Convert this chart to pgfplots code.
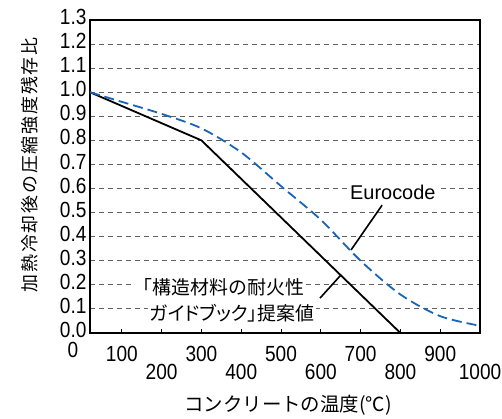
\documentclass[border=0pt]{standalone}
\usepackage{pgfplots}
\pgfplotsset{compat=1.18}
\usepackage{fontspec}
\setmainfont{Liberation Sans}
\newfontfamily\tickfont[FakeStretch=0.87]{Liberation Sans}
\newfontfamily\jp{Noto Sans CJK JP}
\newfontfamily\jppalt[RawFeature=+palt]{Noto Sans CJK JP}
\newfontfamily\jpls[LetterSpace=10]{Noto Sans CJK JP}
\definecolor{euroblue}{RGB}{25,100,180}
\begin{document}
\begin{tikzpicture}
\begin{axis}[
  name=ax,
  scale only axis,
  width=390bp, height=313bp,
  xmin=20, xmax=1000, ymin=0, ymax=1.3,
  xtick={100,300,500,700,900},
  extra x ticks={200,400,600,800,1000},
  extra x tick style={xticklabel style={yshift=-18bp}},
  ytick={0,0.1,0.2,0.3,0.4,0.5,0.6,0.7,0.8,0.9,1.0,1.1,1.2,1.3},
  xtick pos=bottom, ytick pos=left,
  tick align=inside,
  major tick length=4bp,
  xtick style={black, line width=0.8bp},
  ytick style={draw=none},
  axis line style={line width=1.6bp, black},
  ymajorgrids,
  grid style={black!62, line width=1bp, dash pattern=on 5bp off 4bp},
  /pgf/number format/assume math mode=true,
  tick label style={font=\tickfont\fontsize{22}{22}\selectfont},
  xticklabel style={yshift=-10bp, /pgf/number format/1000 sep={}},
  yticklabel style={yshift=3bp, /pgf/number format/.cd, fixed, fixed zerofill, precision=1},
  xlabel={\jp コンクリートの温度(℃)},
  ylabel={\jpls 加熱冷却後の圧縮強度残存比},
  xlabel style={font=\fontsize{19.5}{19.5}\selectfont, at={(rel axis cs:0.508,-0.23)}, anchor=center},
  ylabel style={font=\fontsize{18}{18}\selectfont, at={(rel axis cs:-0.154,0.537)}, anchor=center, rotate=0},
  clip mode=individual,
]
\addplot[black, line width=1.8bp] coordinates {(20,1.0) (300,0.8) (800,0.0)};
\addplot[euroblue, line width=1.8bp, dash pattern=on 10bp off 5bp, smooth, tension=0.5] coordinates {
  (20,1.00) (100,0.96) (200,0.91) (300,0.85) (400,0.75) (500,0.61)
  (600,0.47) (700,0.30) (800,0.16) (900,0.07) (1000,0.03)};
\draw[black, line width=1.6bp] (axis cs:754,0.531) -- (axis cs:676,0.345);
\draw[black, line width=1.6bp] (axis cs:598,0.145) -- (axis cs:650,0.24);
\node[fill=white, inner sep=3bp, font=\fontsize{20}{20}\selectfont] at (axis cs:781,0.585) {Eurocode};
\node[fill=white, inner sep=2bp, font=\jp\fontsize{19}{19}\selectfont] at (axis cs:344,0.191) {「構造材料の耐火性};
\node[fill=white, inner sep=2bp, font=\jppalt\fontsize{19}{19}\selectfont] at (axis cs:377,0.083) {ガイドブック」提案値};
\end{axis}
\node[font=\tickfont\fontsize{22}{22}\selectfont, inner sep=0pt] at ([shift={(-17bp,-17bp)}]ax.south west) {0};
\pgfresetboundingbox
\path ([shift={(-90bp,-85bp)}]ax.south west) rectangle ([shift={(22bp,20bp)}]ax.north east);
\end{tikzpicture}
\end{document}
